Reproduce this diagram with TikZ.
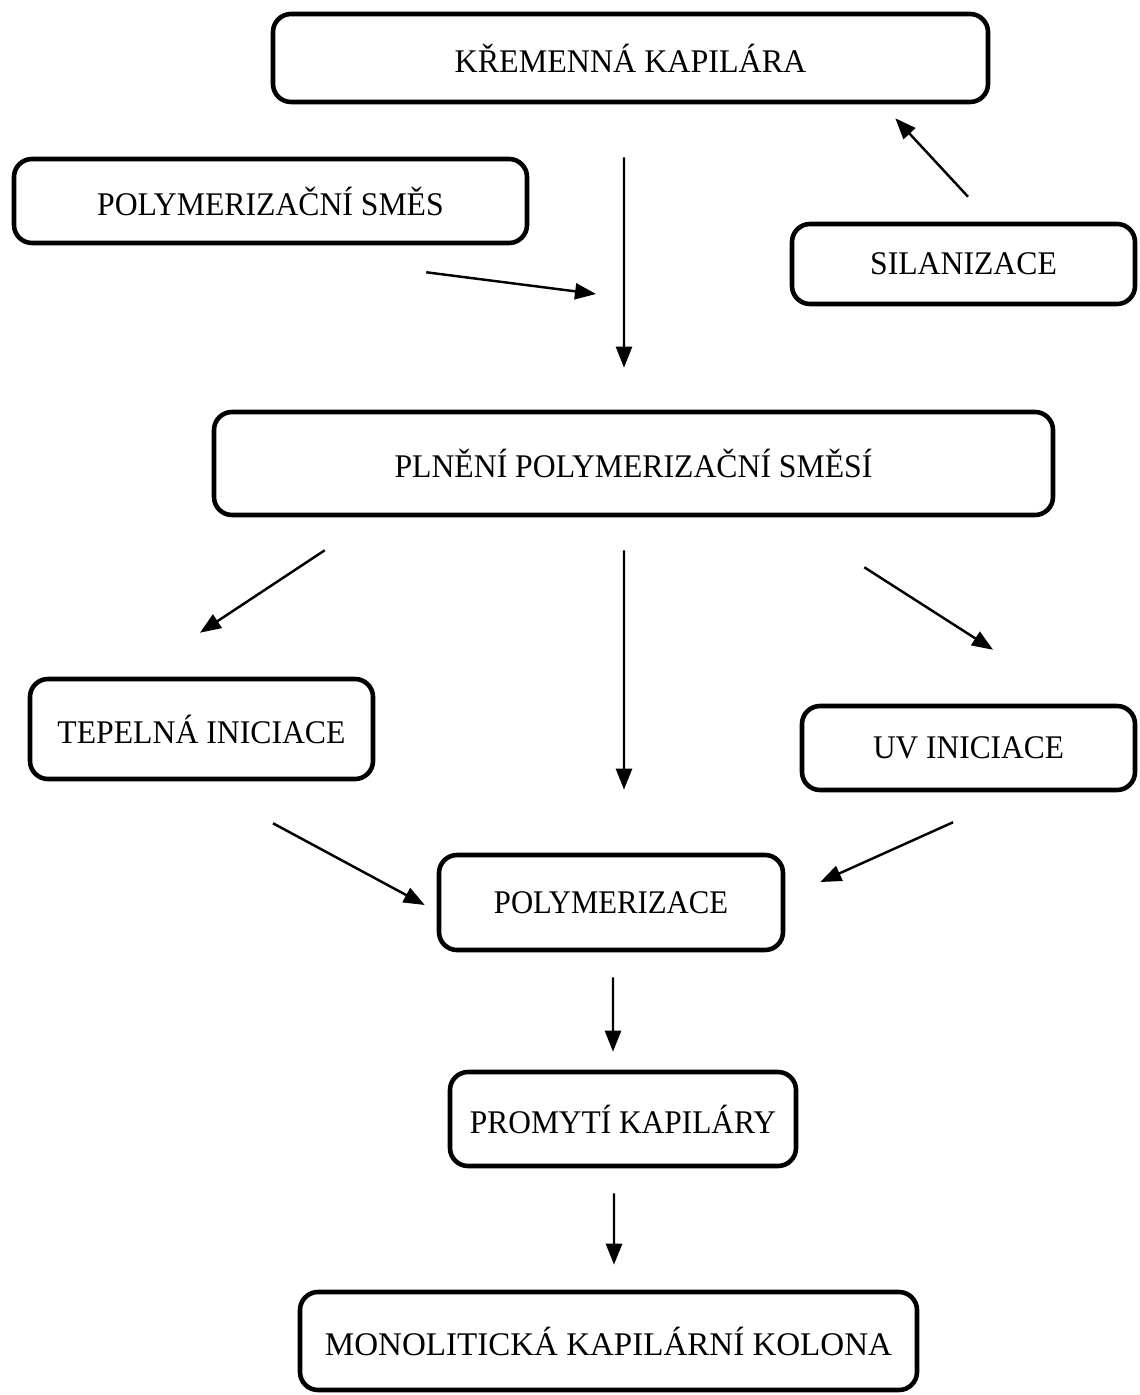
\documentclass[tikz,border=0pt]{standalone}
\usepackage{fontspec}
\setmainfont{Liberation Serif}
\usetikzlibrary{arrows.meta, positioning, calc}

\begin{document}
\begin{tikzpicture}[
  box/.style={draw, line width=1.3pt, rounded corners=0.18cm, align=center, inner sep=0pt, font=\fontsize{9.4}{11}\selectfont\addfontfeatures{FakeStretch=#1}},
  box/.default=0.96,
  arr/.style={line width=0.7pt, -{Triangle[length=0.21cm, width=0.16cm]}}
]
  \useasboundingbox (0,0) rectangle (11.39,-13.95);

  % Vstup
  \node[box=0.97, minimum width=7.15cm, minimum height=0.88cm] (kremen) at (6.305,-0.58) {KŘEMENNÁ KAPILÁRA};
  \node[box, minimum width=5.13cm, minimum height=0.84cm] (smes) at (2.705,-2.01) {POLYMERIZAČNÍ SMĚS};
  \node[box, minimum width=3.43cm, minimum height=0.80cm] (silan) at (9.635,-2.64) {SILANIZACE};

  % Plneni
  \node[box, minimum width=8.39cm, minimum height=1.03cm] (plneni) at (6.335,-4.635) {PLNĚNÍ POLYMERIZAČNÍ SMĚSÍ};

  % Iniciace
  \node[box, minimum width=3.43cm, minimum height=1.00cm] (tepel) at (2.015,-7.29) {TEPELNÁ INICIACE};
  \node[box=0.95, minimum width=3.33cm, minimum height=0.84cm] (uv) at (9.685,-7.48) {UV INICIACE};

  % Polymerizace a vysledek
  \node[box=0.93, minimum width=3.44cm, minimum height=0.95cm] (polymer) at (6.11,-9.025) {POLYMERIZACE};
  \node[box=0.95, minimum width=3.46cm, minimum height=0.94cm] (promyti) at (6.23,-11.19) {PROMYTÍ KAPILÁRY};
  \node[box=1, minimum width=6.17cm, minimum height=0.98cm] (monolit) at (6.085,-13.41) {MONOLITICKÁ KAPILÁRNÍ KOLONA};

  \coordinate (join) at (5.96,-2.94);

  % Sipky
  \draw[arr] ([shift={(-0.065,-0.53)}]kremen.south) -- ([shift={(-0.095,0.42)}]plneni.north);
  \draw[arr] ([shift={(-1.03,-0.27)}]smes.south east) -- (join);
  \draw[arr] ([shift={(0.045,0.25)}]silan.north) -- ([shift={(-0.95,-0.14)}]kremen.south east);
  \draw[arr] ([shift={(1.13,-0.33)}]plneni.south west) -- ([shift={(-0.015,0.44)}]tepel.north);
  \draw[arr] ([shift={(-0.095,-0.33)}]plneni.south) -- ([shift={(0.13,0.63)}]polymer.north);
  \draw[arr] ([shift={(-1.91,-0.50)}]plneni.south east) -- ([shift={(0.245,0.54)}]uv.north);
  \draw[arr] ([shift={(0.715,-0.42)}]tepel.south) -- ([shift={(-0.12,-0.025)}]polymer.west);
  \draw[arr] ([shift={(-0.155,-0.30)}]uv.south) -- ([shift={(0.35,0.205)}]polymer.east);
  \draw[arr] ([shift={(0.02,-0.25)}]polymer.south) -- ([shift={(-0.10,0.18)}]promyti.north);
  \draw[arr] ([shift={(-0.09,-0.25)}]promyti.south) -- ([shift={(0.055,0.25)}]monolit.north);
\end{tikzpicture}
\end{document}
